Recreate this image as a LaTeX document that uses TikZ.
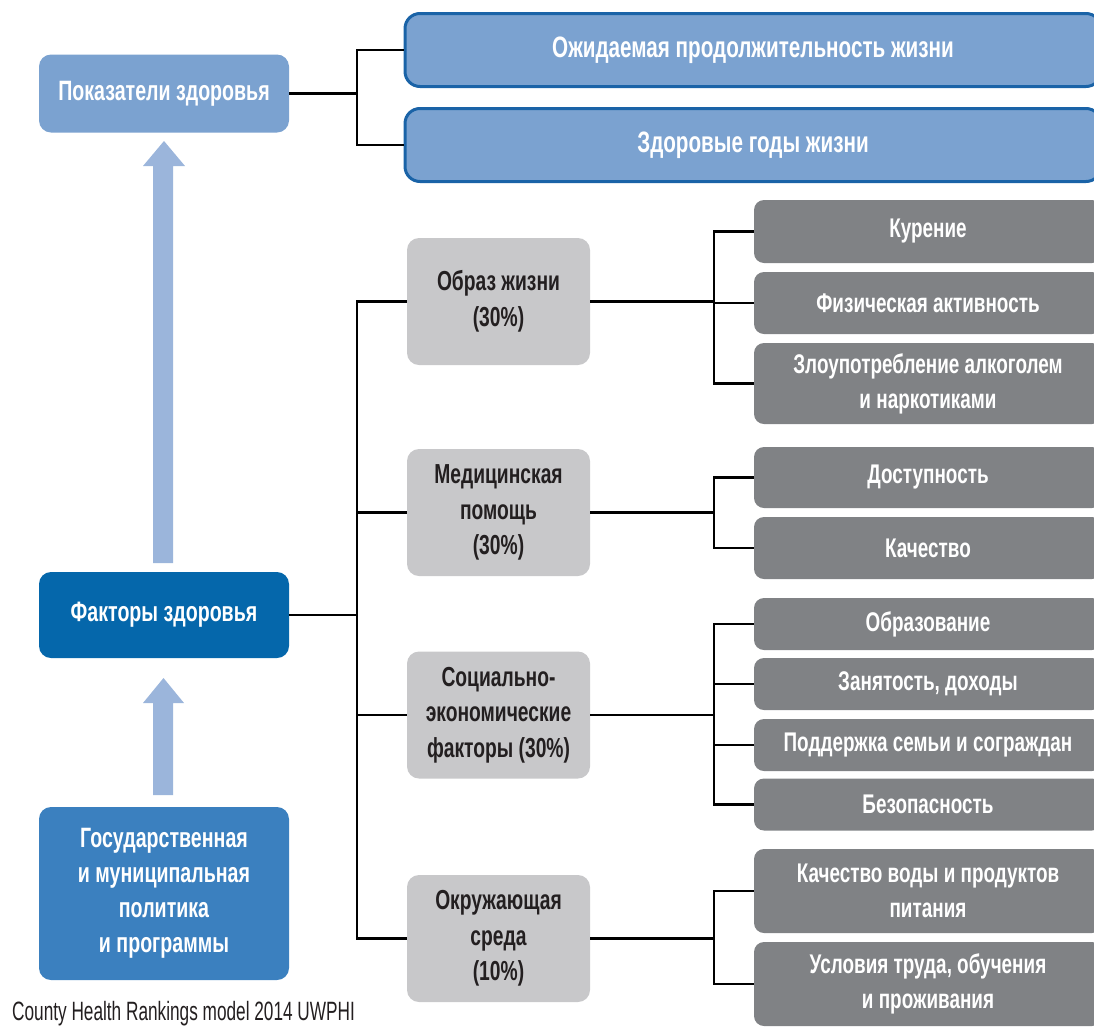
\documentclass[tikz,border=0pt]{standalone}
\usepackage{fontspec}
\setmainfont{Liberation Sans}[FakeStretch=0.7]
\newfontfamily\capfont{Liberation Sans}[FakeStretch=0.65]
\definecolor{lblue}{HTML}{7BA2D0}
\definecolor{arrowblue}{HTML}{9BB5DB}
\definecolor{dblue}{HTML}{0567AB}
\definecolor{mblue}{HTML}{3B80BF}
\definecolor{bordblue}{HTML}{1A63A7}
\definecolor{lgray}{HTML}{C8C8CA}
\definecolor{dgray}{HTML}{808285}
\definecolor{txt}{HTML}{231F20}
\begin{document}
\begin{tikzpicture}[x=1pt,y=-1pt,
  box/.style={rounded corners=12pt, inner sep=0pt, align=center,
    font=\bfseries\fontsize{27}{35}\selectfont},
  leftbox/.style={box, minimum width=250pt, text=white,
    font=\bfseries\fontsize{28}{35}\selectfont},
  topbox/.style={box, fill=lblue, draw=bordblue, line width=3pt, rounded corners=15pt,
    minimum width=696pt, minimum height=73pt, text=white,
    font=\bfseries\fontsize{29.5}{35}\selectfont},
  midbox/.style={box, fill=lgray, text=txt, minimum width=183pt, minimum height=127pt,
    font=\bfseries\fontsize{27.5}{35.5}\selectfont},
  subbox/.style={box, fill=dgray, text=white, rounded corners=10pt, minimum width=348pt},
  conn/.style={line width=2.5pt, black},
  blockarrow/.style={fill=arrowblue, draw=none}
]
\useasboundingbox (0,0) rectangle (1094,1026);
\clip (0,0) rectangle (1094,1026);

% left column
\node[leftbox, fill=lblue, minimum height=78pt] (pok) at (164,93.5) {Показатели здоровья};
\node[leftbox, fill=dblue, minimum height=86pt] (fak) at (164,615) {Факторы здоровья};
\node[leftbox, fill=mblue, minimum height=173pt] (gos) at (164,893.5)
  {Государственная\\и муниципальная\\политика\\и программы};
\node[anchor=base west, inner sep=0pt, text=txt, font=\capfont\fontsize{26.5}{30}\selectfont] (cap)
  at (12,1020) {County Health Rankings model 2014 UWPHI};

% block arrows
\fill[blockarrow] (153,563) -- (153,166) -- (143,166) -- (164,141) -- (185,166) -- (173,166) -- (173,563) -- cycle;
\fill[blockarrow] (153,795) -- (153,703) -- (143,703) -- (163.5,678) -- (184,703) -- (173,703) -- (173,795) -- cycle;

% top boxes
\node[topbox] (ojid) at (753,50) {Ожидаемая продолжительность жизни};
\node[topbox] (zdor) at (753,145) {Здоровые годы жизни};

% middle boxes
\node[midbox] (obr) at (498.5,301.5) {Образ жизни\\(30\%)};
\node[midbox] (med) at (498.5,512.5) {Медицинская\\помощь\\(30\%)};
\node[midbox] (soc) at (498.5,715) {Социально-\\экономические\\факторы (30\%)};
\node[midbox] (okr) at (498.5,938.5) {Окружающая\\среда\\(10\%)};

% sub boxes
\node[subbox, minimum height=63pt] (kur) at (928,231.5) {Курение};
\node[subbox, minimum height=62pt] (fiz) at (928,303) {Физическая активность};
\node[subbox, minimum height=81pt] (zlo) at (928,383.5) {Злоупотребление алкоголем\\и наркотиками};
\node[subbox, minimum height=61pt] (dos) at (928,477.5) {Доступность};
\node[subbox, minimum height=62pt] (kach) at (928,548) {Качество};
\node[subbox, minimum height=52pt] (obraz) at (928,624) {Образование};
\node[subbox, minimum height=52pt] (zan) at (928,684) {Занятость, доходы};
\node[subbox, minimum height=52pt] (pod) at (928,745) {Поддержка семьи и сограждан};
\node[subbox, minimum height=52pt] (bez) at (928,804.5) {Безопасность};
\node[subbox, minimum height=84pt] (voda) at (928,891) {Качество воды и продуктов\\питания};
\node[subbox, minimum height=84pt] (usl) at (928,984) {Условия труда, обучения\\и проживания};

% connectors
\coordinate (j0) at (357,93.5);
\draw[conn] (pok.east) -- (j0);
\draw[conn] (j0) |- (ojid.west);
\draw[conn] (j0) |- (zdor.west);

\coordinate (j1) at (357,615);
\draw[conn] (fak.east) -- (j1);
\draw[conn] (j1) |- (obr.west);
\draw[conn] (j1) |- (med.west);
\draw[conn] (j1) |- (soc.west);
\draw[conn] (j1) |- (okr.west);

\coordinate (j2) at (714,301.5);
\draw[conn] (obr.east) -- (j2);
\draw[conn] (j2) |- (kur.west);
\draw[conn] (j2) |- (fiz.west);
\draw[conn] (j2) |- (zlo.west);

\coordinate (j3) at (714,512.5);
\draw[conn] (med.east) -- (j3);
\draw[conn] (j3) |- (dos.west);
\draw[conn] (j3) |- (kach.west);

\coordinate (j4) at (714,715);
\draw[conn] (soc.east) -- (j4);
\draw[conn] (j4) |- (obraz.west);
\draw[conn] (j4) |- (zan.west);
\draw[conn] (j4) |- (pod.west);
\draw[conn] (j4) |- (bez.west);

\coordinate (j5) at (714,938.5);
\draw[conn] (okr.east) -- (j5);
\draw[conn] (j5) |- (voda.west);
\draw[conn] (j5) |- (usl.west);
\end{tikzpicture}
\end{document}
